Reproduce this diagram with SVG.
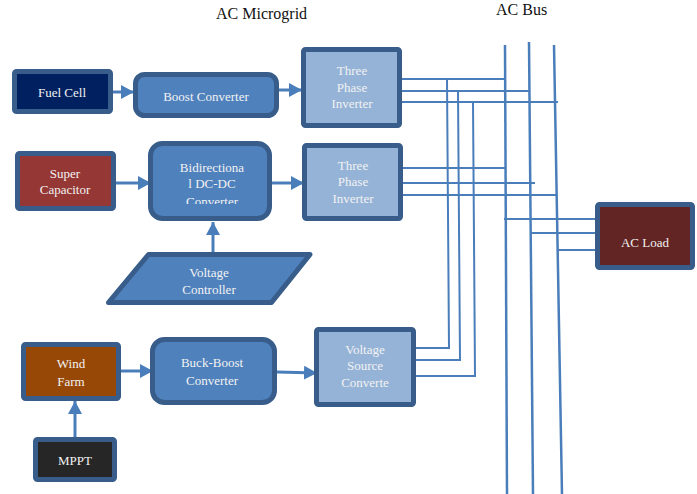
<svg xmlns="http://www.w3.org/2000/svg" width="697" height="494" viewBox="0 0 697 494">
  <style>
    .box { stroke: #385d8a; stroke-width: 5; stroke-linejoin: round; }
    .conv { fill: #4f81bd; }
    .inv { fill: #95b3d7; }
    .lbl { font-family: "Liberation Serif", "Times New Roman", serif; font-size: 13px; fill: #f2f2f2; text-anchor: middle; }
    .title { font-family: "Liberation Serif", "Times New Roman", serif; font-size: 16px; fill: #111; }
    .wire { fill: none; stroke: #4a7ebb; stroke-width: 2; }
    .bus { fill: none; stroke: #4a7ebb; stroke-width: 2.5; }
    .arrow { fill: none; stroke: #4a7ebb; stroke-width: 3; marker-end: url(#head); }
  </style>
  <defs>
    <marker id="head" markerUnits="userSpaceOnUse" markerWidth="14" markerHeight="16" refX="13" refY="7" orient="auto">
      <path d="M0,0 L13,7 L0,14 z" fill="#4a7ebb"/>
    </marker>
    <clipPath id="bidirClip">
      <rect x="153" y="146" width="114" height="58"/>
    </clipPath>
  </defs>

  <rect width="697" height="494" fill="#ffffff"/>

  <!-- headings -->
  <text class="title" x="216" y="19">AC Microgrid</text>
  <text class="title" x="496" y="15">AC Bus</text>

  <!-- wiring between inverters, bus and load -->
  <g id="connectors">
    <!-- AC bus conductors -->
    <path class="bus" d="M505,45 L507,494"/>
    <path class="bus" d="M529,42 L533,494"/>
    <path class="bus" d="M554,45 L562,494"/>
    <!-- inverter 1 phases -->
    <path class="wire" d="M401,79 L505,79"/>
    <path class="wire" d="M401,91 L529,91"/>
    <path class="wire" d="M401,102 L558,102"/>
    <!-- drops to the voltage source converter -->
    <path class="wire" d="M447,79 L449,348 L414,348"/>
    <path class="wire" d="M458,91 L460,360 L414,360"/>
    <path class="wire" d="M473,102 L475,376 L414,376"/>
    <!-- inverter 2 phases -->
    <path class="wire" d="M402,168 L505,168"/>
    <path class="wire" d="M402,183 L535,183"/>
    <path class="wire" d="M402,195 L557,195"/>
    <!-- load feeders -->
    <path class="wire" d="M504,219 L597,219"/>
    <path class="wire" d="M531,233 L597,233"/>
    <path class="wire" d="M558,250 L597,250"/>
    <!-- power flow arrows -->
    <path class="arrow" d="M113,92 L134,92"/>
    <path class="arrow" d="M279,90 L302,90"/>
    <path class="arrow" d="M116,183 L151,183"/>
    <path class="arrow" d="M272,183 L304,183"/>
    <path class="arrow" d="M213,252 L213,222"/>
    <path class="arrow" d="M121,371 L153,371"/>
    <path class="arrow" d="M277,372 L317,373"/>
    <path class="arrow" d="M75,437 L75,401"/>
  </g>

  <g id="fuel-cell">
    <rect class="box" x="14.5" y="71.5" width="96" height="40" rx="2" fill="#002060"/>
    <text class="lbl" x="62" y="96.5">Fuel Cell</text>
  </g>

  <g id="boost-converter">
    <rect class="box conv" x="135.5" y="74.5" width="141" height="41" rx="9"/>
    <text class="lbl" x="206" y="101">Boost Converter</text>
  </g>

  <g id="inverter-1">
    <rect class="box inv" x="303.5" y="49.5" width="96" height="76" rx="2"/>
    <text class="lbl" x="352" y="74.5">Three</text>
    <text class="lbl" x="352" y="91.5">Phase</text>
    <text class="lbl" x="352" y="108">Inverter</text>
  </g>

  <g id="super-capacitor">
    <rect class="box" x="17.5" y="153.5" width="96" height="55" rx="2" fill="#953735"/>
    <text class="lbl" x="65" y="177.5">Super</text>
    <text class="lbl" x="65" y="194">Capacitor</text>
  </g>

  <g id="bidirectional-converter">
    <rect class="box conv" x="150.5" y="143.5" width="119" height="75" rx="12"/>
    <g clip-path="url(#bidirClip)">
      <text class="lbl" x="212" y="171.5">Bidirectiona</text>
      <text class="lbl" x="212" y="187.5">l DC-DC</text>
      <text class="lbl" x="212" y="206">Converter</text>
    </g>
  </g>

  <g id="inverter-2">
    <rect class="box inv" x="304.5" y="145.5" width="96" height="73" rx="2"/>
    <text class="lbl" x="353" y="169.5">Three</text>
    <text class="lbl" x="353" y="186">Phase</text>
    <text class="lbl" x="353" y="202.5">Inverter</text>
  </g>

  <g id="voltage-controller">
    <path class="box conv" d="M148.5,254.5 L310,254.5 L271.5,302.5 L108.5,302.5 z"/>
    <text class="lbl" x="209" y="276.5">Voltage</text>
    <text class="lbl" x="209" y="294">Controller</text>
  </g>

  <g id="ac-load">
    <rect class="box" x="597.5" y="204.5" width="95" height="63" rx="2" fill="#632523"/>
    <text class="lbl" x="645" y="246.5">AC Load</text>
  </g>

  <g id="wind-farm">
    <rect class="box" x="23.5" y="344.5" width="95" height="54" rx="2" fill="#974806"/>
    <text class="lbl" x="71" y="367.5">Wind</text>
    <text class="lbl" x="71" y="385.5">Farm</text>
  </g>

  <g id="buck-boost-converter">
    <rect class="box conv" x="152.5" y="339.5" width="122" height="63" rx="12"/>
    <text class="lbl" x="212" y="366.5">Buck-Boost</text>
    <text class="lbl" x="212" y="384.5">Converter</text>
  </g>

  <g id="voltage-source-converter">
    <rect class="box inv" x="316.5" y="329.5" width="97" height="75" rx="2"/>
    <text class="lbl" x="365" y="353.5">Voltage</text>
    <text class="lbl" x="365" y="370">Source</text>
    <text class="lbl" x="365" y="386.5">Converte</text>
  </g>

  <g id="mppt">
    <rect class="box" x="35.5" y="439.5" width="79" height="40" rx="2" fill="#262626"/>
    <text class="lbl" x="75" y="464.5">MPPT</text>
  </g>
</svg>
